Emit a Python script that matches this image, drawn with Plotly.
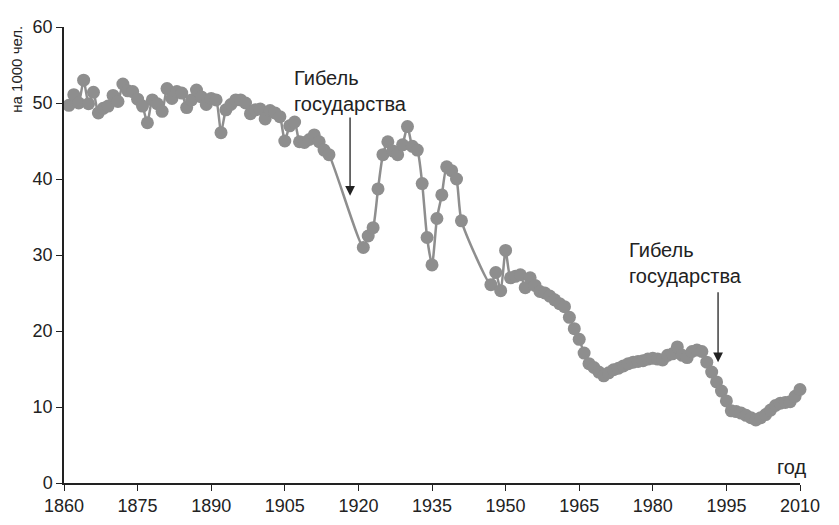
import plotly.graph_objects as go

# Birth rate per 1000 population
years_a = list(range(1861, 1915))
rate_a = [49.7, 51.1, 50.0, 53.0, 49.9, 51.4, 48.7, 49.3, 49.6, 51.0,
          50.2, 52.5, 51.6, 51.5, 50.5, 49.6, 47.4, 50.4, 49.9, 48.9,
          51.9, 50.6, 51.5, 51.3, 49.4, 50.4, 51.7, 50.8, 49.8, 50.6,
          50.4, 46.1, 49.1, 49.8, 50.4, 50.4, 50.0, 48.6, 49.1, 49.2,
          47.9, 49.0, 48.7, 48.2, 45.0, 47.0, 47.5, 44.9, 44.8, 45.2,
          45.8, 44.9, 43.8, 43.2]

years_b = list(range(1921, 1942))
rate_b = [31.0, 32.5, 33.6, 38.7, 43.2, 44.9, 43.7, 43.2, 44.5, 46.9,
          44.3, 43.8, 39.4, 32.3, 28.7, 34.8, 37.9, 41.6, 41.1, 40.0,
          34.5]

years_c = list(range(1947, 2011))
rate_c = [26.1, 27.7, 25.3, 30.6, 27.0, 27.2, 27.4, 25.7, 27.0, 26.0,
          25.2, 25.0, 24.6, 24.1, 23.6, 23.2, 21.8, 20.3, 18.9, 17.1,
          15.7, 15.2, 14.6, 14.1, 14.5, 14.9, 15.1, 15.4, 15.7, 15.9,
          16.0, 16.1, 16.3, 16.4, 16.3, 16.2, 16.8, 17.0, 17.9, 16.8,
          16.5, 17.3, 17.5, 17.3, 15.9, 14.6, 13.3, 12.1, 10.8, 9.5,
          9.4, 9.2, 8.9, 8.6, 8.3, 8.6, 9.0, 9.6, 10.2, 10.5,
          10.6, 10.7, 11.4, 12.3]

years = years_a + years_b + years_c
rate = rate_a + rate_b + rate_c

x_ticks = list(range(1860, 2011, 15))
y_ticks = list(range(0, 61, 10))

gray = "#8e8e8e"
ink = "#222222"
font_family = "Liberation Sans, Arial, sans-serif"

fig = go.Figure()
fig.add_trace(go.Scatter(
    x=years, y=rate, mode="lines+markers",
    line=dict(color=gray, width=2.5, shape="spline", smoothing=0.6),
    marker=dict(color=gray, size=13),
    cliponaxis=False, showlegend=False, hoverinfo="x+y"))

annotations = [
    dict(x=1918.3, y=37.8, ax=1918.3, ay=48.3, xref="x", yref="y",
         axref="x", ayref="y", showarrow=True, arrowhead=2, arrowsize=1.5,
         arrowwidth=1.3, arrowcolor=ink, text=""),
    dict(x=1993.3, y=15.9, ax=1993.3, ay=25.3, xref="x", yref="y",
         axref="x", ayref="y", showarrow=True, arrowhead=2, arrowsize=1.5,
         arrowwidth=1.3, arrowcolor=ink, text=""),
    dict(x=1906.5, y=51.6, xref="x", yref="y", showarrow=False,
         text="Гибель<br>государства", align="left", xanchor="left",
         yanchor="middle", font=dict(size=20, color=ink, family=font_family)),
    dict(x=1974.7, y=29.0, xref="x", yref="y", showarrow=False,
         text="Гибель<br>государства", align="left", xanchor="left",
         yanchor="middle", font=dict(size=20, color=ink, family=font_family)),
    dict(x=2008.4, y=2.1, xref="x", yref="y", showarrow=False, text="год",
         xanchor="center", yanchor="middle",
         font=dict(size=20, color=ink, family=font_family)),
    dict(x=-0.064, y=54.5, xref="paper", yref="y", showarrow=False,
         text="на 1000 чел.", textangle=-90, xanchor="center", yanchor="middle",
         font=dict(size=15, color=ink, family=font_family)),
]

# page body has an 8px margin, so the figure is sized/offset to compensate
fig.update_layout(
    width=831, height=517,
    margin=dict(l=56, r=39, t=9, b=39),
    plot_bgcolor="white", paper_bgcolor="white",
    font=dict(family=font_family, size=18, color=ink),
    annotations=annotations,
    xaxis=dict(range=[1860, 2010], tickvals=x_ticks, ticks="outside",
               ticklen=6, tickwidth=1.3, tickcolor=ink,
               showline=True, linecolor=ink, linewidth=1.5,
               showgrid=False, zeroline=False, tickfont=dict(size=18),
               ticklabeloverflow="allow"),
    yaxis=dict(range=[0, 60], tickvals=y_ticks, ticks="outside",
               ticklen=6, tickwidth=1.3, tickcolor=ink,
               showline=True, linecolor=ink, linewidth=1.5,
               showgrid=False, zeroline=False, tickfont=dict(size=18),
               ticklabeloverflow="allow"),
)

fig.write_html("out.html")
